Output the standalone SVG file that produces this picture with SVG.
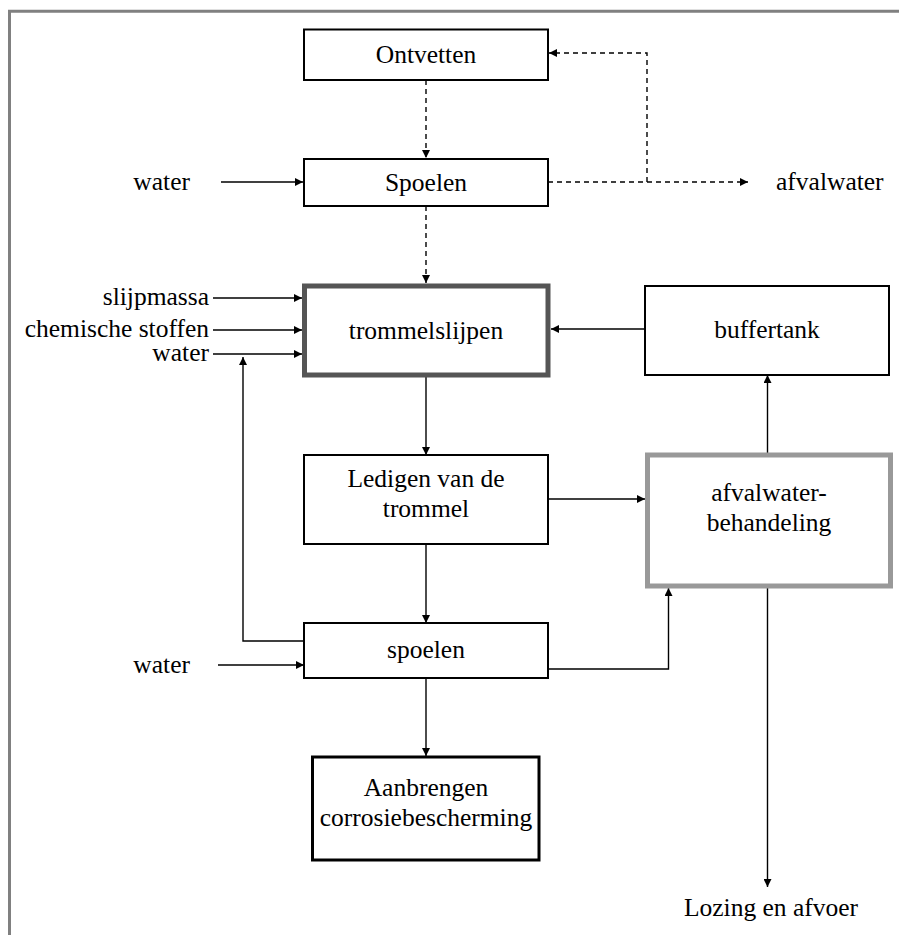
<svg xmlns="http://www.w3.org/2000/svg" width="899" height="935" viewBox="0 0 899 935">
<style>
text{font-family:'Liberation Serif',Tinos,'Times New Roman','DejaVu Serif',serif;font-size:25.5px;fill:#000}
.c{text-anchor:middle}
.r{text-anchor:end}
.box{fill:#fff;stroke:#000;stroke-width:2}
.ln{fill:none;stroke:#000;stroke-width:1.4}
.dash{stroke-dasharray:5,4}
</style>
<defs>
<marker id="ah" viewBox="0 0 10 10" refX="10" refY="5" markerWidth="8" markerHeight="8" markerUnits="userSpaceOnUse" orient="auto">
<path d="M0,0 L10,5 L0,10 z" fill="#000"/>
</marker>
</defs>
<g id="frame">
<path d="M9.5,935 V11.3 H899" fill="none" stroke="#808080" stroke-width="3"/>
</g>
<g id="connectors">
<path class="ln dash" d="M426,80 V158" marker-end="url(#ah)"/>
<path class="ln dash" d="M548,182 H748" marker-end="url(#ah)"/>
<path class="ln dash" d="M647,182 V53 H549" marker-end="url(#ah)"/>
<path class="ln dash" d="M426,206 V283" marker-end="url(#ah)"/>
<path class="ln" d="M221,182 H303" marker-end="url(#ah)"/>
<path class="ln" d="M213,298 H302" marker-end="url(#ah)"/>
<path class="ln" d="M213,330 H302" marker-end="url(#ah)"/>
<path class="ln" d="M213,354 H302" marker-end="url(#ah)"/>
<path class="ln" d="M645,329 H551" marker-end="url(#ah)"/>
<path class="ln" d="M426,375 V455" marker-end="url(#ah)"/>
<path class="ln" d="M767.5,453 V375" marker-end="url(#ah)"/>
<path class="ln" d="M548,499 H645" marker-end="url(#ah)"/>
<path class="ln" d="M426,544 V623" marker-end="url(#ah)"/>
<path class="ln" d="M304,641 H243 V357" marker-end="url(#ah)"/>
<path class="ln" d="M218,665 H304" marker-end="url(#ah)"/>
<path class="ln" d="M548,669 H668.5 V588" marker-end="url(#ah)"/>
<path class="ln" d="M426,678 V756" marker-end="url(#ah)"/>
<path class="ln" d="M767.5,588 V887" marker-end="url(#ah)"/>
</g>
<g id="ontvetten">
<rect class="box" x="304" y="29.5" width="244" height="50.5"/>
<text class="c" x="426" y="63">Ontvetten</text>
</g>
<g id="spoelen1">
<rect class="box" x="304" y="159" width="244" height="47"/>
<text class="c" x="426" y="191">Spoelen</text>
</g>
<g id="water1"><text class="r" x="190" y="190">water</text></g>
<g id="afvalwater"><text x="776" y="190">afvalwater</text></g>
<g id="trommelslijpen">
<rect x="304.5" y="286" width="243.5" height="89" fill="#fff" stroke="#555" stroke-width="5"/>
<text class="c" x="426" y="339">trommelslijpen</text>
</g>
<g id="inputs">
<text class="r" x="209" y="305">slijpmassa</text>
<text class="r" x="209" y="337">chemische stoffen</text>
<text class="r" x="209" y="361">water</text>
</g>
<g id="buffertank">
<rect class="box" x="645" y="286" width="244" height="89"/>
<text class="c" x="767" y="338">buffertank</text>
</g>
<g id="ledigen">
<rect class="box" x="304" y="455" width="244" height="89"/>
<text class="c" x="426" y="487">Ledigen van de</text>
<text class="c" x="426" y="517">trommel</text>
</g>
<g id="afvalwaterbehandeling">
<rect x="647.5" y="455" width="243" height="131" fill="#fff" stroke="#999" stroke-width="5"/>
<text class="c" x="769" y="501">afvalwater-</text>
<text class="c" x="769" y="531">behandeling</text>
</g>
<g id="spoelen2">
<rect class="box" x="304" y="623" width="244" height="55"/>
<text class="c" x="426" y="658">spoelen</text>
</g>
<g id="water2"><text class="r" x="190" y="673">water</text></g>
<g id="aanbrengen">
<rect x="312.5" y="757" width="226.5" height="103" fill="#fff" stroke="#000" stroke-width="3"/>
<text class="c" x="426" y="796">Aanbrengen</text>
<text class="c" x="426" y="826">corrosiebescherming</text>
</g>
<g id="lozing"><text class="c" x="771" y="916">Lozing en afvoer</text></g>
</svg>
